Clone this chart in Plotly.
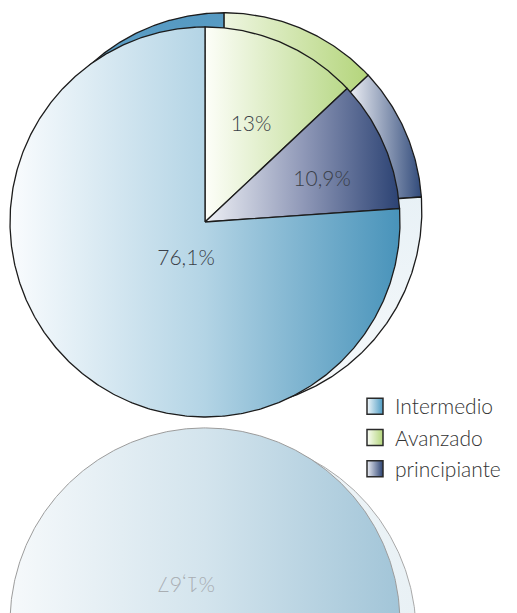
import numpy as np
import plotly.graph_objects as go

# ---------------- data ----------------
categories = ["Intermedio", "Avanzado", "principiante"]
values = [76.1, 13.0, 10.9]
value_labels = ["76,1%", "13%", "10,9%"]
# clockwise order around the pie, starting at 12 o'clock
clockwise_order = ["Avanzado", "principiante", "Intermedio"]

# ---------------- styling ----------------
FONT = "Lato"
R = 1.0                       # front pie radius (data units)
BACK_DX, BACK_DY, BACK_R = 0.097, 0.058, 1.015
MIRROR_Y = -1.028             # reflection axis

front_grad = {
    "Intermedio": ([[0, "#fafcfe"], [0.5, "#b3d4e5"], [1, "#4893ba"]], -1.0, 1.0),
    "Avanzado": ([[0, "#fdfef9"], [1, "#b8d887"]], 0.0, 0.74),
    "principiante": ([[0, "#eef0f5"], [0.5, "#9099b8"], [1, "#2b4273"]], 0.0, 1.0),
}
back_grad = {
    "Avanzado": ([[0, "#f6faee"], [1, "#b2d478"]], 0.0, 0.86),
    "principiante": ([[0, "#eef0f5"], [1, "#2c4677"]], 0.74, 1.12),
}
back_inter_scale = [[0, "#f6f9fb"], [0.55, "#e8f1f6"], [0.8, "#9ec6dc"],
                    [0.88, "#5e9fc6"], [1, "#5599c2"]]
refl_grad = {
    "Intermedio": [[0, "#f6f9fb"], [0.5, "#d3e4ed"], [1, "#a2c5d8"]],
    "Avanzado": [[0, "#fbfdf8"], [1, "#dcebc6"]],
    "principiante": [[0, "#f5f6f9"], [1, "#b4bccf"]],
}
legend_colors = {
    "Intermedio": ("#f2f8fb", "#4d9bc3"),
    "Avanzado": ("#fbfdf6", "#b3d57b"),
    "principiante": ("#eceef4", "#2b4272"),
}
# label placement: (radius fraction, angle shift in degrees from slice middle)
label_place = {"Intermedio": (0.218, -16.5), "Avanzado": (0.546, 2.2),
               "principiante": (0.636, 4.3)}

# ---------------- geometry from the values ----------------
val = dict(zip(categories, values))
lab = dict(zip(categories, value_labels))
total = sum(values)
angles = {}
a = 0.0
for c in clockwise_order:
    span = 360.0 * val[c] / total
    angles[c] = (a, a + span)
    a += span


def wedge(cx, cy, r, a0, a1, flip=False):
    t = np.radians(np.linspace(a0, a1, max(3, int((a1 - a0) * 2))))
    xs = np.concatenate([[cx], cx + r * np.sin(t), [cx]])
    ys = np.concatenate([[cy], cy + r * np.cos(t), [cy]])
    if flip:
        ys = 2 * MIRROR_Y - ys
    return xs, ys


fig = go.Figure()

# ---- reflection (back then front) ----
for c in clockwise_order:
    a0, a1 = angles[c]
    xs, ys = wedge(BACK_DX * 0.7, BACK_DY, BACK_R, a0, a1, flip=True)
    fig.add_trace(go.Scatter(
        x=xs, y=ys, mode="lines", fill="toself",
        fillgradient=dict(type="horizontal", colorscale=[[0, "#f8fbfc"], [1, "#e9f1f5"]]),
        line=dict(color="#a9a9a9", width=1), hoverinfo="skip", showlegend=False))
for c in clockwise_order:
    a0, a1 = angles[c]
    xs, ys = wedge(0, 0, R, a0, a1, flip=True)
    fig.add_trace(go.Scatter(
        x=xs, y=ys, mode="lines", fill="toself",
        fillgradient=dict(type="horizontal", colorscale=refl_grad[c], start=-1.0, stop=1.0),
        line=dict(color="#9c9c9c", width=1), hoverinfo="skip", showlegend=False))

# ---- back (depth) layer ----
for c in clockwise_order:
    a0, a1 = angles[c]
    xs, ys = wedge(BACK_DX, BACK_DY, BACK_R, a0, a1)
    if c == "Intermedio":
        fg = dict(type="vertical", colorscale=back_inter_scale,
                  start=BACK_DY - BACK_R, stop=BACK_DY + BACK_R)
    else:
        sc, s0, s1 = back_grad[c]
        fg = dict(type="horizontal", colorscale=sc, start=s0, stop=s1)
    fig.add_trace(go.Scatter(
        x=xs, y=ys, mode="lines", fill="toself", fillgradient=fg,
        line=dict(color="#1c1c1c", width=1.3), hoverinfo="skip", showlegend=False))

# ---- front pie ----
for c in clockwise_order:
    a0, a1 = angles[c]
    xs, ys = wedge(0, 0, R, a0, a1)
    sc, s0, s1 = front_grad[c]
    fig.add_trace(go.Scatter(
        x=xs, y=ys, mode="lines", fill="toself",
        fillgradient=dict(type="horizontal", colorscale=sc, start=s0, stop=s1),
        line=dict(color="#1c1c1c", width=1.3), name=c,
        hoverinfo="name", showlegend=False))

# ---- slice labels ----
lx, ly, lt = [], [], []
for c in categories:
    a0, a1 = angles[c]
    rr, shift = label_place[c]
    m = np.radians((a0 + a1) / 2 + shift)
    lx.append(rr * np.sin(m))
    ly.append(rr * np.cos(m))
    lt.append(lab[c])
fig.add_trace(go.Scatter(
    x=lx, y=ly, text=lt, mode="text",
    textfont=dict(family=FONT, size=21, color="#3a3f48", weight=300),
    hoverinfo="skip", showlegend=False))

# mirrored label in the reflection
fig.add_annotation(
    x=lx[0], y=2 * MIRROR_Y - ly[0], text=lab["Intermedio"][::-1], textangle=180,
    showarrow=False, font=dict(family=FONT, size=21, color="#a9aeb3", weight=300))

# ---- legend entries ----
for i, c in enumerate(categories):
    c0, c1 = legend_colors[c]
    fig.add_trace(go.Scatter(
        x=[None], y=[None], mode="markers", name=c, legendgroup=c,
        marker=dict(symbol="square", size=16, color=c0,
                    gradient=dict(type="horizontal", color=c1),
                    line=dict(color="#2a2a2a", width=1.5))))

W, H = 517, 613
OFF = 8                                  # page body margin
CX, CY, SCALE = 205 - OFF, 222 - OFF, 195
fig.update_layout(
    width=W, height=H, margin=dict(l=0, r=0, t=0, b=0),
    paper_bgcolor="white", plot_bgcolor="white",
    xaxis=dict(range=[-CX / SCALE, (W - CX) / SCALE], visible=False, fixedrange=True),
    yaxis=dict(range=[-(H - CY) / SCALE, CY / SCALE], visible=False, fixedrange=True),
    legend=dict(x=347 / W, y=1 - 378 / H, xanchor="left", yanchor="top",
                font=dict(family=FONT, size=21, color="#333333", weight=300),
                bgcolor="rgba(0,0,0,0)", tracegroupgap=1, traceorder="grouped",
                itemclick=False),
    showlegend=True,
)

fig.write_html("out.html")
